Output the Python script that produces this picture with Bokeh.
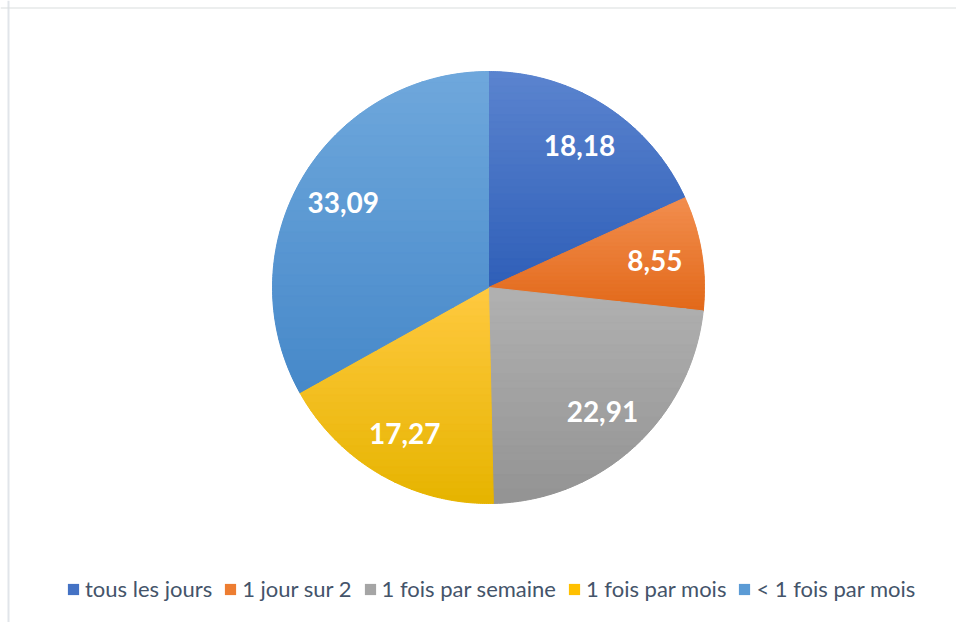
import numpy as np
from bokeh.plotting import figure
from bokeh.models import ColumnDataSource, Range1d, Span
from bokeh.core.properties import value
from bokeh.embed import file_html
from bokeh.resources import INLINE

# ---- data ----
categories = ["tous les jours", "1 jour sur 2", "1 fois par semaine", "1 fois par mois", "< 1 fois par mois"]
values = [18.18, 8.55, 22.91, 17.27, 33.09]
labels = ["18,18", "8,55", "22,91", "17,27", "33,09"]
colors_base = ["#4472C4", "#ED7D31", "#A5A5A5", "#FFC000", "#5B9BD5"]
colors_top = ["#5B84CF", "#F28E4F", "#B1B1B1", "#FFC940", "#6FA8DC"]
colors_bottom = ["#2F5FB8", "#E2691A", "#939393", "#E6B400", "#4688C9"]

# ---- layout ----
W, H = 956, 622
CX, CY, R = 488, 335, 216
LABEL_R = 0.78

vals = np.array(values, dtype=float)
frac = vals / vals.sum()
cum = np.cumsum(frac)
a0 = 2 * np.pi * np.concatenate([[0], cum[:-1]])  # clockwise from top
a1 = 2 * np.pi * cum
start_angle = np.pi / 2 - a1
end_angle = np.pi / 2 - a0
mid = np.pi / 2 - (a0 + a1) / 2

p = figure(width=W, height=H, x_range=Range1d(0, W), y_range=Range1d(0, H),
           min_border=0, toolbar_location=None, output_backend="svg")
p.axis.visible = False
p.grid.visible = False
p.outline_line_color = None
p.background_fill_color = "white"
p.border_fill_color = "white"

src = ColumnDataSource(dict(cat=categories, start=start_angle, end=end_angle,
                            color=colors_base, x=[CX] * len(values), y=[CY] * len(values)))
p.wedge(x="x", y="y", radius=R, start_angle="start", end_angle="end",
        direction="anticlock", fill_color="color", line_color=None,
        legend_field="cat", source=src)


def hex2rgb(h):
    h = h.lstrip("#")
    return np.array([int(h[i:i + 2], 16) for i in (0, 2, 4)], dtype=float)


def rgb2hex(c):
    c = np.clip(np.round(c), 0, 255).astype(int)
    return "#%02x%02x%02x" % tuple(c)


def clip(poly, yv, keep_above):
    out = []
    n = len(poly)
    for i in range(n):
        P = poly[i]
        Q = poly[(i + 1) % n]
        inP = (P[1] >= yv) if keep_above else (P[1] <= yv)
        inQ = (Q[1] >= yv) if keep_above else (Q[1] <= yv)
        if inP:
            out.append(P)
        if inP != inQ:
            t = (yv - P[1]) / (Q[1] - P[1])
            out.append((P[0] + t * (Q[0] - P[0]), yv))
    return out


# gradient bands per slice
xs_all, ys_all, cols = [], [], []
NB = 30
for i in range(len(values)):
    ts = np.linspace(np.pi / 2 - a0[i], np.pi / 2 - a1[i], 120)
    poly = [(CX, CY)] + [(CX + R * np.cos(t), CY + R * np.sin(t)) for t in ts]
    ys = [q[1] for q in poly]
    ymin, ymax = min(ys), max(ys)
    edges = np.linspace(ymax, ymin, NB + 1)
    ct, cb = hex2rgb(colors_top[i]), hex2rgb(colors_bottom[i])
    for b in range(NB):
        yt, yb = edges[b], edges[b + 1]
        band = clip(clip(poly, yb, True), yt, False)
        if len(band) < 3:
            continue
        f = (b + 0.5) / NB
        xs_all.append([q[0] for q in band])
        ys_all.append([q[1] for q in band])
        cols.append(rgb2hex(ct + (cb - ct) * f))

p.patches(xs=xs_all, ys=ys_all, fill_color=cols, line_color=cols, line_width=1)

# labels
lx = CX + LABEL_R * R * np.cos(mid)
ly = CY + LABEL_R * R * np.sin(mid)
p.text(x=lx, y=ly, text=labels, text_font=value("Lato"), text_font_style="bold",
       text_font_size="28px", text_color="white", text_align="center",
       text_baseline="middle")

# chart frame (top and left only visible)
p.add_layout(Span(location=8, dimension="height", line_color="#E1E5EA", line_width=2))
p.add_layout(Span(location=H - 7.5, dimension="width", line_color="#D9DDDD", line_width=1))

leg = p.legend[0]
leg.orientation = "horizontal"
leg.location = (66, 20)
leg.label_text_font = "Lato"
leg.label_text_font_size = "22px"
leg.label_text_color = "#44546A"
leg.glyph_width = 14
leg.glyph_height = 14
leg.label_standoff = 5
leg.spacing = 11
leg.padding = 0
leg.margin = 0
leg.border_line_color = None
leg.background_fill_alpha = 0

open("out.html", "w").write(file_html(p, INLINE))
